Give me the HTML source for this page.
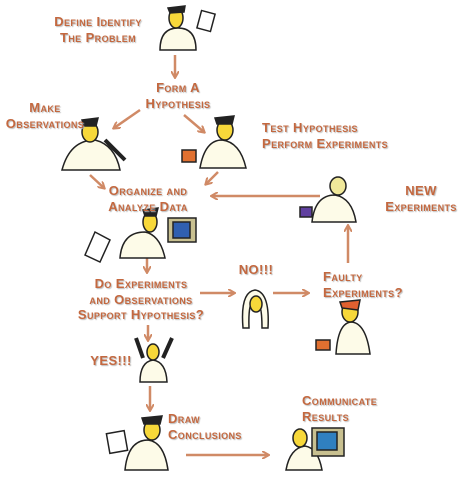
<!DOCTYPE html>
<html><head><meta charset="utf-8"><style>
body{margin:0;width:462px;height:478px;background:#fff;position:relative;overflow:hidden;font-family:"Liberation Sans",sans-serif}
.t{position:absolute;color:#c4683f;font-weight:bold;font-variant:small-caps;font-size:13px;line-height:15.5px;white-space:nowrap;text-shadow:1px 1px 1px #bbb;letter-spacing:0.4px}
.c{text-align:center;transform:translateX(-50%)}
svg{position:absolute;left:0;top:0}
</style></head><body>
<svg width="462" height="478" viewBox="0 0 462 478">
<defs><marker id="a" markerWidth="8" markerHeight="8" refX="6" refY="4" orient="auto" markerUnits="userSpaceOnUse"><path d="M0,0 L7,4 L0,8" fill="none" stroke="#d08a66" stroke-width="2"/></marker></defs>
<g stroke="#d08a66" stroke-width="2.5" fill="none" marker-end="url(#a)">
<line x1="175" y1="55" x2="175" y2="77"/>
<line x1="140" y1="110" x2="114" y2="128"/>
<line x1="184" y1="115" x2="204" y2="132"/>
<line x1="90" y1="175" x2="104" y2="188"/>
<line x1="218" y1="172" x2="206" y2="184"/>
<line x1="320" y1="196" x2="212" y2="196"/>
<line x1="147" y1="258" x2="147" y2="272"/>
<line x1="200" y1="293" x2="234" y2="293"/>
<line x1="273" y1="293" x2="308" y2="293"/>
<line x1="348" y1="263" x2="348" y2="226"/>
<line x1="148" y1="325" x2="148" y2="340"/>
<line x1="150" y1="386" x2="150" y2="410"/>
<line x1="186" y1="455" x2="268" y2="455"/>
</g>
<g stroke="#222" stroke-width="1.5">
<path d="M160,50 Q160,28 178,28 Q196,28 196,50 Z" fill="#fdfbe8"/>
<ellipse cx="176" cy="18" rx="7" ry="10" fill="#f7d83a"/>
<path d="M168,8 L185,6 L184,12 L170,13Z" fill="#222"/>
<rect x="199" y="12" width="14" height="18" fill="#fff" transform="rotate(15 206 21)"/>
<path d="M62,170 Q70,140 95,140 Q115,145 120,170 Z" fill="#fdfbe8"/>
<ellipse cx="90" cy="132" rx="8" ry="10" fill="#f7d83a"/>
<path d="M82,120 L98,118 L96,126 L84,126Z" fill="#222"/>
<path d="M105,140 L125,160" stroke-width="4"/>
<path d="M200,168 Q205,140 222,140 Q240,142 246,168 Z" fill="#fdfbe8"/>
<ellipse cx="225" cy="130" rx="8" ry="10" fill="#f7d83a"/>
<path d="M215,118 L234,116 L232,124 L217,124Z" fill="#222"/>
<rect x="182" y="150" width="14" height="12" fill="#e07030"/>
<path d="M312,222 Q315,195 335,195 Q352,198 356,222 Z" fill="#fdfbe8"/>
<ellipse cx="338" cy="186" rx="8" ry="9" fill="#f0e89a"/>
<rect x="300" y="207" width="12" height="10" fill="#6040a0"/>
<path d="M120,258 Q122,232 145,232 Q160,235 165,258 Z" fill="#fdfbe8"/>
<ellipse cx="150" cy="222" rx="7" ry="10" fill="#f7d83a"/>
<path d="M143,210 L158,208 L156,216 L145,216Z" fill="#222"/>
<rect x="168" y="218" width="28" height="24" fill="#c8c090"/>
<rect x="173" y="222" width="17" height="16" fill="#3060b0"/>
<path d="M85,255 L95,232 L110,240 L100,262Z" fill="#fff"/>
<path d="M243,328 Q240,292 255,290 Q270,292 268,328 L262,328 Q262,300 255,300 Q248,300 249,328Z" fill="#fdfbe8"/>
<ellipse cx="256" cy="304" rx="6" ry="8" fill="#f7d83a"/>
<path d="M336,354 Q338,322 352,322 Q366,324 370,354 Z" fill="#fdfbe8"/>
<ellipse cx="350" cy="312" rx="8" ry="10" fill="#f7d83a"/>
<path d="M340,302 L360,300 L358,310 L342,308Z" fill="#e06030"/>
<rect x="316" y="340" width="14" height="10" fill="#e07030"/>
<path d="M140,382 Q140,362 153,360 Q166,362 167,382 Z" fill="#fdfbe8"/>
<ellipse cx="153" cy="352" rx="6" ry="8" fill="#f7d83a"/>
<path d="M143,358 L136,338 M163,358 L172,338" stroke-width="4"/>
<path d="M125,470 Q128,440 148,440 Q164,442 168,470 Z" fill="#fdfbe8"/>
<ellipse cx="152" cy="430" rx="8" ry="10" fill="#f7d83a"/>
<path d="M142,418 L162,416 L160,424 L144,424Z" fill="#222"/>
<rect x="108" y="432" width="18" height="20" fill="#fff" transform="rotate(-10 117 442)"/>
<path d="M286,470 Q290,448 305,446 Q318,448 322,470 Z" fill="#fdfbe8"/>
<ellipse cx="300" cy="438" rx="7" ry="9" fill="#f7d83a"/>
<rect x="312" y="428" width="32" height="28" fill="#c8c090"/>
<rect x="317" y="432" width="20" height="18" fill="#3080c0"/>
</g>
</svg>
<div class="t c" style="left:98px;top:14px">Define Identify<br>The Problem</div>
<div class="t c" style="left:178px;top:80px">Form A<br>Hypothesis</div>
<div class="t c" style="left:45px;top:100px">Make<br>Observations</div>
<div class="t" style="left:262px;top:120px">Test Hypothesis<br>Perform Experiments</div>
<div class="t c" style="left:148px;top:183px">Organize and<br>Analyze Data</div>
<div class="t c" style="left:421px;top:183px">NEW<br>Experiments</div>
<div class="t c" style="left:141px;top:276px">Do Experiments<br>and Observations<br>Support Hypothesis?</div>
<div class="t c" style="left:256px;top:262px">NO!!!</div>
<div class="t" style="left:323px;top:269px">Faulty<br>Experiments?</div>
<div class="t c" style="left:111px;top:353px">YES!!!</div>
<div class="t" style="left:168px;top:411px">Draw<br>Conclusions</div>
<div class="t" style="left:302px;top:393px">Communicate<br>Results</div>
</body></html>
